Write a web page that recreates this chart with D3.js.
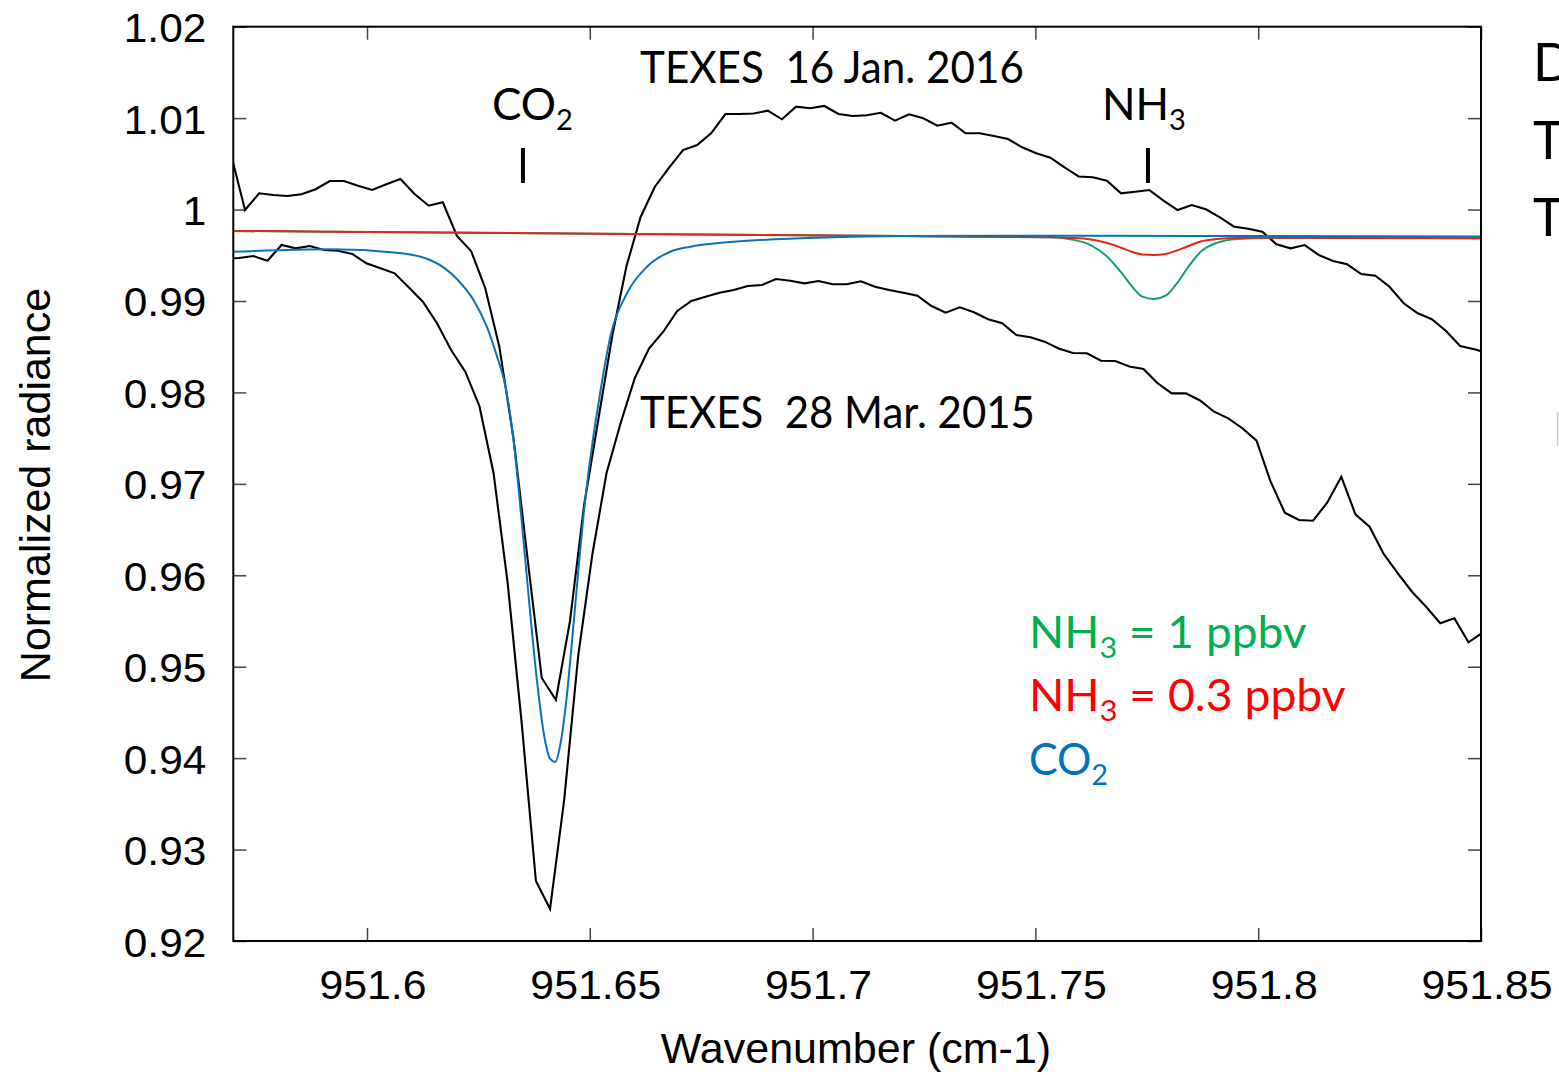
<!DOCTYPE html>
<html><head><meta charset="utf-8">
<script src="https://cdn.jsdelivr.net/npm/d3@7"></script>
<style>html,body{margin:0;padding:0;background:#fff;} svg{display:block;} text{white-space:pre;}</style>
</head><body>
<svg id="chart" width="1559" height="1075"></svg>
<script>
// ---------- DATA ----------
const wnJan2016 = [
951.56946, 951.57263, 951.57580, 951.57897, 951.58214, 951.58531, 951.58848, 951.59165, 951.59482, 951.59800,
951.60117, 951.60434, 951.60751, 951.61068, 951.61385, 951.61702, 951.62019, 951.62336, 951.62653, 951.62970,
951.63287, 951.63605, 951.63922, 951.64239, 951.64556, 951.64873, 951.65190, 951.65507, 951.65824, 951.66141,
951.66458, 951.66775, 951.67092, 951.67410, 951.67727, 951.68044, 951.68361, 951.68678, 951.68995, 951.69312,
951.69629, 951.69946, 951.70263, 951.70580, 951.70898, 951.71215, 951.71532, 951.71849, 951.72166, 951.72483,
951.72800, 951.73117, 951.73434, 951.73751, 951.74068, 951.74386, 951.74703, 951.75020, 951.75337, 951.75654,
951.75971, 951.76288, 951.76605, 951.76922, 951.77239, 951.77556, 951.77874, 951.78191, 951.78508, 951.78825,
951.79142, 951.79459, 951.79776, 951.80093, 951.80410, 951.80727, 951.81044, 951.81362, 951.81679, 951.81996,
951.82313, 951.82630, 951.82947, 951.83264, 951.83581, 951.83898, 951.84215, 951.84532, 951.84850, 951.85167];
const radJan2016 = [
1.00608, 0.99995, 1.00178, 1.00159, 1.00148, 1.00167, 1.00222, 1.00312, 1.00312, 1.00261,
1.00214, 1.00276, 1.00334, 1.00170, 1.00042, 1.00079, 0.99711, 0.99547, 0.99142, 0.98500,
0.97501, 0.96178, 0.94877, 0.94636, 0.95500, 0.96769, 0.97698, 0.98628, 0.99383, 0.99919,
1.00247, 1.00455, 1.00651, 1.00706, 1.00837, 1.01045, 1.01045, 1.01051, 1.01081, 1.00987,
1.01125, 1.01108, 1.01133, 1.01045, 1.01023, 1.01031, 1.01059, 1.00972, 1.01042, 1.00998,
1.00917, 1.00950, 1.00834, 1.00834, 1.00805, 1.00772, 1.00681, 1.00615, 1.00567, 1.00462,
1.00362, 1.00353, 1.00316, 1.00178, 1.00195, 1.00214, 1.00097, 0.99995, 1.00050, 1.00003,
0.99915, 0.99813, 0.99791, 0.99758, 0.99620, 0.99576, 0.99612, 0.99503, 0.99437, 0.99401,
0.99295, 0.99277, 0.99156, 0.98975, 0.98865, 0.98800, 0.98672, 0.98508, 0.98472, 0.98431];

const wnMar2015 = [
951.56815, 951.57132, 951.57449, 951.57766, 951.58083, 951.58400, 951.58717, 951.59035, 951.59352, 951.59669,
951.59986, 951.60303, 951.60620, 951.60937, 951.61254, 951.61571, 951.61888, 951.62206, 951.62523, 951.62840,
951.63157, 951.63474, 951.63791, 951.64108, 951.64425, 951.64742, 951.65059, 951.65376, 951.65693, 951.66011,
951.66328, 951.66645, 951.66962, 951.67279, 951.67596, 951.67913, 951.68230, 951.68547, 951.68864, 951.69181,
951.69498, 951.69816, 951.70133, 951.70450, 951.70767, 951.71084, 951.71401, 951.71718, 951.72035, 951.72352,
951.72669, 951.72987, 951.73304, 951.73621, 951.73938, 951.74255, 951.74572, 951.74889, 951.75206, 951.75523,
951.75840, 951.76157, 951.76474, 951.76792, 951.77109, 951.77426, 951.77743, 951.78060, 951.78377, 951.78694,
951.79011, 951.79328, 951.79645, 951.79963, 951.80280, 951.80597, 951.80914, 951.81231, 951.81548, 951.81865,
951.82182, 951.82499, 951.82816, 951.83134, 951.83451, 951.83768, 951.84085, 951.84402, 951.84719, 951.85036];
const radMar2015 = [
0.99465, 0.99470, 0.99492, 0.99441, 0.99612, 0.99576, 0.99601, 0.99558, 0.99550, 0.99514,
0.99412, 0.99358, 0.99303, 0.99150, 0.98992, 0.98756, 0.98464, 0.98227, 0.97851, 0.97119,
0.95916, 0.94373, 0.92656, 0.92350, 0.93542, 0.95128, 0.96233, 0.97119, 0.97666, 0.98158,
0.98480, 0.98661, 0.98891, 0.99000, 0.99047, 0.99091, 0.99120, 0.99164, 0.99175, 0.99241,
0.99222, 0.99193, 0.99219, 0.99183, 0.99183, 0.99215, 0.99156, 0.99120, 0.99091, 0.99058,
0.98945, 0.98872, 0.98931, 0.98876, 0.98800, 0.98756, 0.98628, 0.98603, 0.98555, 0.98480,
0.98431, 0.98428, 0.98347, 0.98344, 0.98284, 0.98256, 0.98100, 0.97990, 0.97990, 0.97912,
0.97789, 0.97717, 0.97608, 0.97472, 0.97023, 0.96684, 0.96605, 0.96597, 0.96794, 0.97078,
0.96667, 0.96531, 0.96233, 0.96022, 0.95820, 0.95656, 0.95475, 0.95530, 0.95267, 0.95372];

const wnCO2 = [951.57000, 951.59172, 951.60669, 951.61417, 951.62017, 951.62390, 951.62691, 951.62915,
  951.63102, 951.63288, 951.63438, 951.63625, 951.63813, 951.63962, 951.64112, 951.64224, 951.64337,
  951.64487, 951.64599, 951.64712, 951.64860, 951.65084, 951.65161, 951.65460, 951.65835, 951.66284,
  951.66807, 951.67256, 951.68228, 951.69726, 951.71972, 951.74218, 951.78709, 951.85000];
const radCO2 = [0.99539, 0.99565, 0.99528, 0.99448, 0.99241, 0.99011, 0.98716, 0.98398,
  0.98081, 0.97480, 0.96769, 0.95784, 0.94855, 0.94286, 0.93991, 0.93958, 0.94144,
  0.94691, 0.95270, 0.95883, 0.96659, 0.97534, 0.97775, 0.98606, 0.99084, 0.99375,
  0.99539, 0.99594, 0.99648, 0.99686, 0.99711, 0.99714, 0.99711, 0.99705];

const wnNH3 = [951.57000, 951.65235, 951.71972, 951.75340, 951.75790, 951.76239, 951.76614, 951.76912,
  951.77175, 951.77400, 951.77660, 951.77923, 951.78148, 951.78410, 951.78709, 951.79084, 951.79533,
  951.80130, 951.85000];
const radNH3_1ppbv = [0.99766, 0.99735, 0.99710, 0.99697, 0.99675, 0.99612, 0.99484, 0.99320,
  0.99156, 0.99047, 0.99022, 0.99058, 0.99175, 0.99358, 0.99539, 0.99638, 0.99678,
  0.99689, 0.99686];
const radNH3_03ppbv = [0.99766, 0.99735, 0.99710, 0.99697, 0.99690, 0.99673, 0.99634, 0.99585,
  0.99536, 0.99508, 0.99503, 0.99514, 0.99547, 0.99596, 0.99651, 0.99678, 0.99689,
  0.99691, 0.99686];

const lineMarkerWn = [951.63500, 951.77526];
const lineMarkerNames = ["CO", "NH"];
const lineMarkerSubs = ["2", "3"];

const xTicks = [951.6, 951.65, 951.7, 951.75, 951.8, 951.85];
const xTickLabels = ["951.6", "951.65", "951.7", "951.75", "951.8", "951.85"];
const yTicks = [0.92, 0.93, 0.94, 0.95, 0.96, 0.97, 0.98, 0.99, 1.0, 1.01, 1.02];
const yTickLabels = ["0.92", "0.93", "0.94", "0.95", "0.96", "0.97", "0.98", "0.99", "1", "1.01", "1.02"];

// ---------- DRAW ----------
function draw() {
  const svg = d3.select("#chart");
  const L = 233.3, R = 1481, T = 26.7, B = 941;
  const x = d3.scaleLinear().domain([951.57, 951.85]).range([L, R]);
  const y = d3.scaleLinear().domain([0.92, 1.02]).range([B, T]);
  const axisFont = "'Liberation Sans', Arial, Helvetica, sans-serif";
  const annFont = "Lato, 'Open Sans', sans-serif";

  svg.append("defs").append("clipPath").attr("id", "clip")
    .append("rect").attr("x", L).attr("y", T).attr("width", R - L).attr("height", B - T);

  const tickLen = 13;
  const tickColor = "#444";
  // bottom axis
  const gB = svg.append("g").attr("transform", `translate(0,${B})`)
    .call(d3.axisBottom(x).tickValues(xTicks).tickSize(-tickLen).tickFormat((d, i) => xTickLabels[i]));
  gB.selectAll("text").attr("y", 0).attr("dy", 0)
    .attr("transform", "translate(5.5,57.5) scale(1.07,1)")
    .attr("font-size", 40).attr("font-family", axisFont).attr("fill", "#000");
  // top axis
  const gT = svg.append("g").attr("transform", `translate(0,${T})`)
    .call(d3.axisTop(x).tickValues(xTicks).tickSize(-tickLen).tickFormat(""));
  // left axis
  const gL = svg.append("g").attr("transform", `translate(${L},0)`)
    .call(d3.axisLeft(y).tickValues(yTicks).tickSize(-tickLen).tickFormat((d, i) => yTickLabels[i]));
  gL.selectAll("text").attr("x", 0).attr("dy", 0)
    .attr("transform", "translate(-27,15) scale(1.06,1)")
    .attr("font-size", 40).attr("font-family", axisFont).attr("fill", "#000");
  // right axis
  const gR = svg.append("g").attr("transform", `translate(${R},0)`)
    .call(d3.axisRight(y).tickValues(yTicks).tickSize(-tickLen).tickFormat(""));
  [gB, gT, gL, gR].forEach(g => {
    g.select(".domain").remove();
    g.selectAll(".tick line").attr("stroke", tickColor).attr("stroke-width", 1.5);
  });

  // axis titles
  svg.append("text").attr("x", 856).attr("y", 1063).attr("text-anchor", "middle")
    .attr("font-family", axisFont).attr("font-size", 43).attr("fill", "#000")
    .text("Wavenumber (cm-1)");
  svg.append("text").attr("transform", "translate(50,485) rotate(-90)").attr("text-anchor", "middle")
    .attr("font-family", axisFont).attr("font-size", 43).attr("fill", "#000")
    .text("Normalized radiance");

  // series
  const plot = svg.append("g").attr("clip-path", "url(#clip)");
  const lin = d3.line().x(d => x(d[0])).y(d => y(d[1]));
  const smooth = d3.line().x(d => x(d[0])).y(d => y(d[1])).curve(d3.curveMonotoneX);
  const zip = (a, b) => a.map((v, i) => [v, b[i]]).filter(d => d[1] !== undefined);

  plot.append("path").datum(zip(wnJan2016, radJan2016)).attr("d", lin)
    .attr("fill", "none").attr("stroke", "#000").attr("stroke-width", 2.1).attr("stroke-linejoin", "miter");
  plot.append("path").datum(zip(wnMar2015, radMar2015)).attr("d", lin)
    .attr("fill", "none").attr("stroke", "#000").attr("stroke-width", 2.1).attr("stroke-linejoin", "miter");
  plot.append("path").datum(zip(wnNH3, radNH3_1ppbv)).attr("d", smooth)
    .attr("fill", "none").attr("stroke", "#10a076").attr("stroke-width", 2);
  plot.append("path").datum(zip(wnNH3, radNH3_03ppbv)).attr("d", smooth)
    .attr("fill", "none").attr("stroke", "#e3251b").attr("stroke-width", 2);
  plot.append("path").datum(zip(wnCO2, radCO2)).attr("d", smooth)
    .attr("fill", "none").attr("stroke", "#0b72b9").attr("stroke-width", 2);

  // frame
  svg.append("rect").attr("x", L).attr("y", T).attr("width", R - L).attr("height", B - T)
    .attr("fill", "none").attr("stroke", "#000").attr("stroke-width", 2);

  // fitted annotation text helper
  function fitText(parts, left, base, size, width, color) {
    const t = svg.append("text").attr("font-family", annFont).attr("font-size", size)
      .attr("fill", color).attr("x", 0).attr("y", 0);
    let shifted = false;
    parts.forEach(p => {
      const ts = t.append("tspan").text(p.t);
      if (p.sub) { ts.attr("font-size", size * 0.66).attr("dy", size * 0.22); shifted = true; }
      else if (shifted) { ts.attr("dy", -size * 0.22); shifted = false; }
    });
    const w = t.node().getBBox().width;
    const sx = width ? width / w : 1;
    t.attr("transform", `translate(${left},${base}) scale(${sx},1)`);
    return t;
  }

  fitText([{t: "TEXES  16 Jan. 2016"}], 640, 83, 44, 384, "#000");
  fitText([{t: "TEXES  28 Mar. 2015"}], 640, 428, 44, 395, "#000");

  // line markers with labels
  const markerLeft = [492, 1102], markerW = [81, 84];
  lineMarkerWn.forEach((wn, i) => {
    svg.append("line").attr("x1", x(wn)).attr("x2", x(wn)).attr("y1", 148).attr("y2", 183)
      .attr("stroke", "#000").attr("stroke-width", 4);
    fitText([{t: lineMarkerNames[i]}, {t: lineMarkerSubs[i], sub: true}], markerLeft[i], 120, 44, markerW[i], "#000");
  });

  // legend
  fitText([{t: "NH"}, {t: "3", sub: true}, {t: " = 1 ppbv"}], 1029, 648, 44, 278, "#00b050");
  fitText([{t: "NH"}, {t: "3", sub: true}, {t: " = 0.3 ppbv"}], 1029, 711, 44, 317, "#ff0000");
  fitText([{t: "CO"}, {t: "2", sub: true}], 1029, 775, 44, 79, "#0070c0");

  // text cut off at the right edge of the slide (as in the reference)
  ["D", "T", "T"].forEach((c, i) => {
    svg.append("text").attr("x", 1533).attr("y", [81, 159, 236][i])
      .attr("font-family", annFont).attr("font-size", 52).attr("fill", "#000").text(c);
  });
  svg.append("line").attr("x1", 1557.5).attr("x2", 1557.5).attr("y1", 412).attr("y2", 446)
    .attr("stroke", "#c8c8c8").attr("stroke-width", 1.5);
}
if (document.fonts && document.fonts.ready) document.fonts.ready.then(draw); else draw();
</script>
</body></html>
